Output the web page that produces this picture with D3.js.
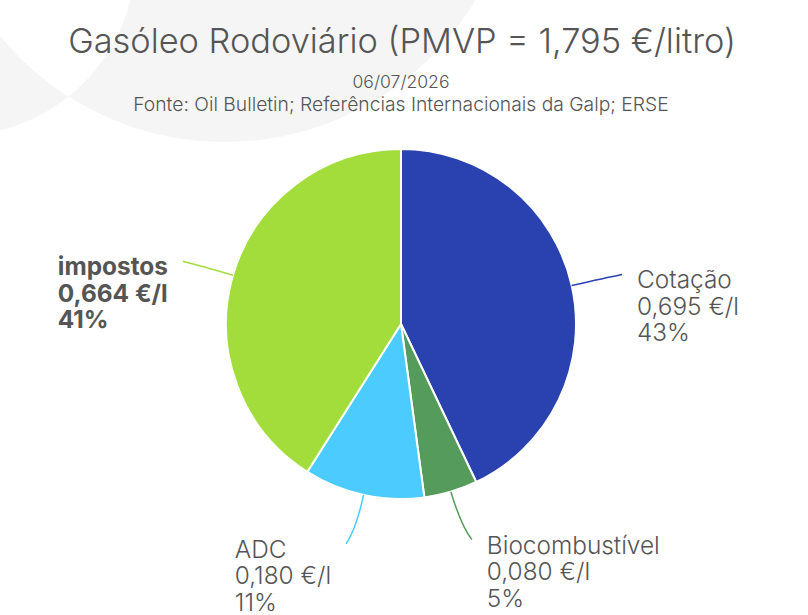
<!DOCTYPE html>
<html>
<head>
<meta charset="utf-8">
<script src="https://cdn.jsdelivr.net/npm/d3@7"></script>
<style>
  html, body { margin: 0; padding: 0; background: #fff; }
  svg { display: block; font-family: "Inter", "Open Sans", sans-serif; }
</style>
</head>
<body>
<div id="chart"></div>
<script>
// Dados
const categorias = ["Cotação", "Biocombustível", "ADC", "impostos"];
const valores = [0.695, 0.080, 0.180, 0.664];
const percentagens = [43, 5, 11, 41];
const cores = ["#2a41b0", "#559b5b", "#4bcbfe", "#a3dd3c"];
const destaque = ["impostos"];

const titulo = "Gasóleo Rodoviário (PMVP = 1,795 €/litro)";
const dataRef = "06/07/2026";
const fonte = "Fonte: Oil Bulletin; Referências Internacionais da Galp; ERSE";

const width = 808, height = 615;
const cx = 401, cy = 324, raio = 175;
const corTexto = "#555555";

const svg = d3.select("#chart").append("svg")
    .attr("width", width)
    .attr("height", height);

// Fundo decorativo (dois círculos sobrepostos, evenodd)
const bg = d3.path();
bg.moveTo(-44 + 180, -44); bg.arc(-44, -44, 180, 0, 2 * Math.PI);
bg.moveTo(225 + 292, -150); bg.arc(225, -150, 292, 0, 2 * Math.PI);
svg.append("path")
    .attr("d", bg.toString())
    .attr("fill", "#f5f5f5")
    .attr("fill-rule", "evenodd");

// ajusta o tamanho da fonte para uma largura alvo
function ajustar(sel, alvo) {
    const size = parseFloat(sel.attr("font-size"));
    const w = sel.node().getComputedTextLength();
    sel.attr("font-size", size * alvo / w);
}

// Títulos
const t = svg.append("text")
    .attr("x", 402).attr("y", 53)
    .attr("text-anchor", "middle")
    .attr("font-size", 34).attr("font-weight", 300)
    .attr("fill", corTexto)
    .text(titulo);
ajustar(t, 668);

const d = svg.append("text")
    .attr("x", 401).attr("y", 88)
    .attr("text-anchor", "middle")
    .attr("font-size", 17).attr("font-weight", 300)
    .attr("fill", corTexto)
    .text(dataRef);
ajustar(d, 97);

const f = svg.append("text")
    .attr("x", 401).attr("y", 111)
    .attr("text-anchor", "middle")
    .attr("font-size", 17).attr("font-weight", 300)
    .attr("fill", corTexto)
    .text(fonte);
ajustar(f, 536);

// Pie
const dados = categorias.map((c, i) => ({
    categoria: c,
    valor: valores[i],
    pct: percentagens[i],
    cor: cores[i]
}));

const pie = d3.pie().sort(null).value(d => d.valor).startAngle(0).endAngle(2 * Math.PI);
const arcos = pie(dados);
const arc = d3.arc().innerRadius(0).outerRadius(raio);

const g = svg.append("g").attr("transform", `translate(${cx},${cy})`);

g.selectAll(".fatia")
    .data(arcos)
    .enter()
    .append("path")
    .attr("class", "fatia")
    .attr("d", arc)
    .attr("fill", d => d.data.cor)
    .attr("stroke", "#fff")
    .attr("stroke-width", 2)
    .attr("stroke-linejoin", "round");

// Linhas de ligação e etiquetas
const fmt = v => d3.format(".3f")(v).replace(".", ",") + " €/l";
const polar = (r, a) => [r * Math.sin(a), -r * Math.cos(a)];

// medir tamanho de fonte das etiquetas
const medida = svg.append("text").attr("font-size", 21).attr("font-weight", 300).text("Biocombustível");
ajustar(medida, 173);
const tamEtiqueta = parseFloat(medida.attr("font-size"));
medida.remove();
const entrelinha = 26.5;

arcos.forEach(a => {
    const ang = (a.startAngle + a.endAngle) / 2;
    const direita = Math.sin(ang) >= 0;
    const sx = direita ? 1 : -1;
    const p0 = polar(raio, ang);
    const p1 = polar(raio + 35, ang);
    const p2 = polar(raio + 50, ang);
    p2[0] += sx * 7 * Math.abs(Math.cos(ang));

    const linha = d3.path();
    linha.moveTo(p0[0], p0[1]);
    linha.quadraticCurveTo(p1[0], p1[1], p2[0], p2[1]);
    g.append("path")
        .attr("d", linha.toString())
        .attr("fill", "none")
        .attr("stroke", a.data.cor)
        .attr("stroke-width", 1.5);

    const negrito = destaque.includes(a.data.categoria);
    const txt = g.append("text")
        .attr("font-size", tamEtiqueta)
        .attr("font-weight", negrito ? 700 : 300)
        .attr("fill", corTexto);
    const linhas = [a.data.categoria, fmt(a.data.valor), a.data.pct + "%"];
    linhas.forEach((l, i) => {
        txt.append("tspan").attr("x", 0).attr("dy", i === 0 ? 0 : entrelinha).text(l);
    });
    const larg = txt.node().getBBox().width;
    const x0 = direita ? p2[0] + 15 : p2[0] - 15 - larg;
    txt.attr("y", p2[1] + 14);
    txt.selectAll("tspan").attr("x", x0);
});
</script>
</body>
</html>
